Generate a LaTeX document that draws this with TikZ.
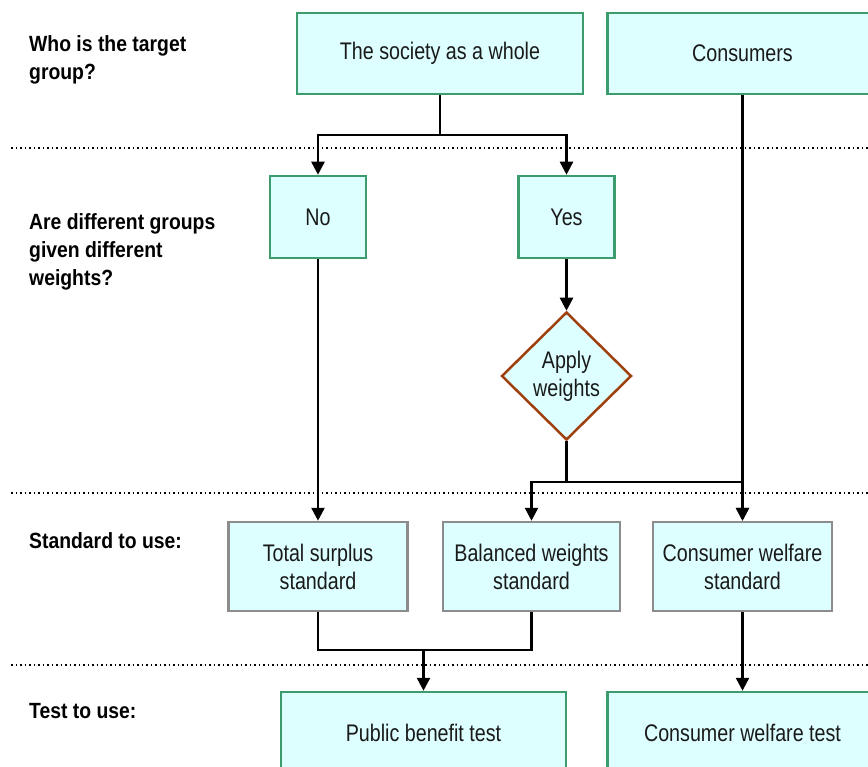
\documentclass[tikz,border=0pt]{standalone}
\usepackage{fontspec}
\setmainfont{Liberation Sans}[FakeStretch=0.82]
\newfontfamily\labelfont{Liberation Sans}[FakeStretch=0.88]
\usetikzlibrary{shapes.geometric,arrows.meta,calc}
\definecolor{boxfill}{HTML}{DDFFFF}
\definecolor{boxgreen}{HTML}{3D9C6E}
\definecolor{boxgray}{HTML}{8C8C8C}
\definecolor{diabrown}{HTML}{A0400F}
\definecolor{txt}{HTML}{1A1A1A}
\begin{document}
\begin{tikzpicture}[x=1pt,y=1pt,
  gbox/.style={draw=boxgreen,fill=boxfill,line width=2.5pt,inner sep=0pt,align=center,
    text=txt,font=\fontsize{24}{28}\selectfont},
  sbox/.style={gbox,draw=boxgray},
  dbox/.style={gbox,draw=diabrown,shape=diamond,minimum width=130pt,minimum height=128pt},
  conn/.style={line width=2.5pt,draw=black},
  arr/.style={conn,-{Triangle[width=13pt,length=13pt]}},
  dotline/.style={line width=1.6pt,dash pattern=on 1.6pt off 2.9pt,draw=black},
  lab/.style={inner sep=0pt,align=left,text=black,font=\labelfont\bfseries\fontsize{22}{28}\selectfont}]
\useasboundingbox (0,0) rectangle (868,-767);
\fill[white] (0,0) rectangle (868,-767);

% dotted separators
\coordinate (d1a) at (11,-148); \coordinate (d1b) at (868,-148);
\coordinate (d2a) at (11,-493); \coordinate (d2b) at (868,-493);
\coordinate (d3a) at (11,-665); \coordinate (d3b) at (868,-665);
\draw[dotline] (d1a) -- (d1b);
\draw[dotline] (d2a) -- (d2b);
\draw[dotline] (d3a) -- (d3b);

% left labels
\node[lab,anchor=north west] (l1) at (29,-35.5) {Who is the target\\group?};
\node[lab,anchor=north west] (l2) at (29,-213.5) {Are different groups\\given different\\weights?};
\node[lab,anchor=base west] (l3) at (29,-548) {Standard to use:};
\node[lab,anchor=base west] (l4) at (29,-718) {Test to use:};

% boxes
\node[gbox,minimum width=286pt,minimum height=81pt] (soc) at (440,-53.5) {The society as a whole};
\node[gbox,minimum width=270pt,minimum height=81pt] (cons) at (742.5,-53.5) {Consumers};
\node[gbox,minimum width=96pt,minimum height=82pt] (no) at (318,-217) {No};
\node[gbox,minimum width=96pt,minimum height=82pt] (yes) at (566.5,-217) {Yes};
\node[dbox] (dia) at (566.5,-376) {Apply\\weights};
\node[sbox,minimum width=179pt,minimum height=89pt] (ts) at (318,-566.5) {Total surplus\\standard};
\node[sbox,minimum width=177pt,minimum height=89pt] (bw) at (531.5,-566.5) {Balanced weights\\standard};
\node[sbox,minimum width=179pt,minimum height=89pt] (cws) at (742.5,-566.5) {Consumer welfare\\standard};
\node[gbox,minimum width=285pt,minimum height=82pt] (pbt) at (423.5,-733) {Public benefit test};
\node[gbox,minimum width=270pt,minimum height=82pt] (cwt) at (742.5,-733) {Consumer welfare test};

% connectors
\coordinate (j1) at (440,-135);
\coordinate (j2) at (566.5,-482);
\coordinate (j3) at (423.5,-650);
\draw[conn] (soc.south) -- (j1);
\draw[arr] (j1) -| (no.north);
\draw[arr] (j1) -| (yes.north);
\draw[arr] (cons.south) -- (cws.north);
\draw[arr] (no.south) -- (ts.north);
\draw[arr] (yes.south) -- (dia.north);
\draw[conn] (dia.south) -- (j2);
\draw[arr] (j2) -| (bw.north);
\draw[arr] (j2) -| (cws.north);
\draw[conn] (ts.south) |- (j3) -| (bw.south);
\draw[arr] (j3) -- (pbt.north);
\draw[arr] (cws.south) -- (cwt.north);
\end{tikzpicture}
\end{document}
